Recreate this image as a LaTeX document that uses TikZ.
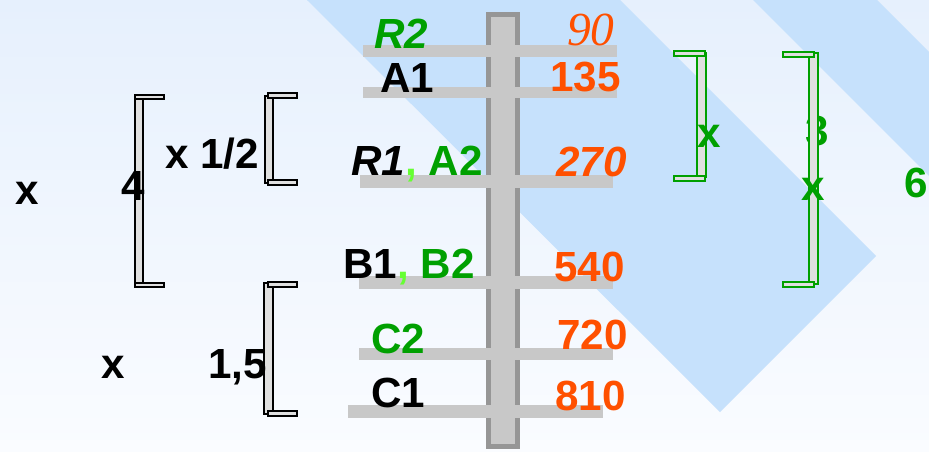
\documentclass[tikz,border=0pt]{standalone}
\usepackage{fontspec}
\setmainfont{Liberation Sans}
\newfontfamily\serifit{Liberation Serif}
\definecolor{orng}{RGB}{255,80,0}
\definecolor{grn}{RGB}{0,160,0}
\definecolor{lgrn}{RGB}{102,255,51}
\definecolor{band}{RGB}{198,225,252}
\definecolor{bgtop}{RGB}{230,240,253}
\definecolor{bgbot}{RGB}{250,252,255}
\definecolor{postdark}{RGB}{150,150,150}
\definecolor{rungc}{RGB}{200,200,200}
\definecolor{brkfill}{RGB}{224,224,224}

\begin{document}
\begin{tikzpicture}[x=0.02cm, y=-0.02cm,
lbl/.style={inner sep=0pt, font=\fontsize{24}{28}\selectfont\bfseries},
tag/.style={lbl, anchor=base west},
num/.style={lbl, text=orng, anchor=base east},
rung/.style={fill=rungc},
brk/.style={draw=black, fill=brkfill, line width=1.1pt},
gbrk/.style={brk, draw=grn}
]
\useasboundingbox (0,0) rectangle (929,451);
\clip (0,0) rectangle (929,451);
%Background
\shade[top color=bgtop, bottom color=bgbot] (0,0) rectangle (929,451);
\fill[band] (307,0) -- (620,0) -- (876,256) -- (720,412) -- cycle;
\fill[band] (753,0) -- (877,0) -- (1000,123) -- (938,185) -- cycle;
%Post and rungs
\draw[draw=postdark, fill=rungc, line width=2.8pt] (488.5,14.5) rectangle (517.5,446.5);
\fill[rung] (363,45) rectangle (617,57);
\fill[rung] (363,87) rectangle (617,98);
\fill[rung] (360,175) rectangle (613,188);
\fill[rung] (359,276) rectangle (613,289);
\fill[rung] (359,348) rectangle (613,360);
\fill[rung] (348,405) rectangle (603,418);
%Names
\node[tag, text=grn] (r2)   at (374,48)  {\itshape R2};
\node[tag]           (a1)   at (380,92)  {A1};
\node[tag]           (r1a2) at (351,175) {\itshape R1\upshape\textcolor{lgrn}{,} \textcolor{grn}{A2}};
\node[tag]           (b1b2) at (343,278) {B1\textcolor{lgrn}{,} \textcolor{grn}{B2}};
\node[tag, text=grn] (c2)   at (371,353) {C2};
\node[tag]           (c1)   at (371,407) {C1};
%Numbers
\node[num, font=\fontsize{27}{30}\selectfont\serifit\itshape] (n90) at (615,45) {90};
\node[num] (n135) at (621,91)  {135};
\node[num] (n270) at (627,176) {\itshape 270};
\node[num] (n540) at (625,281) {540};
\node[num] (n720) at (628,349) {720};
\node[num] (n810) at (626,410) {810};
%Left brackets
\draw[brk] (135,95) rectangle (143,287);
\draw[brk] (135,95) rectangle (164,99);
\draw[brk] (135,283) rectangle (164,287);
\draw[brk] (265,96) rectangle (273,183);
\draw[brk] (268,93) rectangle (297,98);
\draw[brk] (268,180) rectangle (297,185);
\draw[brk] (264,283) rectangle (273,414);
\draw[brk] (268,282) rectangle (297,287);
\draw[brk] (268,411) rectangle (297,416);
\node[tag] (xa)      at (15,204)  {x};
\node[tag] (four)    at (121,200) {4};
\node[tag] (xhalf)   at (165,168) {x 1/2};
\node[tag] (xb)      at (101,378) {x};
\node[tag] (onefive) at (208,378) {1,5};
%Right brackets
\node[tag, text=grn] (three) at (805,145) {3};
\draw[gbrk] (697,53) rectangle (706,177);
\draw[gbrk] (674,51) rectangle (705,56);
\draw[gbrk] (674,176) rectangle (705,181);
\draw[gbrk] (809,53) rectangle (818,284);
\draw[gbrk] (783,52) rectangle (814,57);
\draw[gbrk] (783,282) rectangle (814,287);
\node[tag, text=grn] (xc)  at (697,147) {x};
\node[tag, text=grn] (xd)  at (801,200) {x};
\node[tag, text=grn] (six) at (904,197) {6};
\end{tikzpicture}
\end{document}
